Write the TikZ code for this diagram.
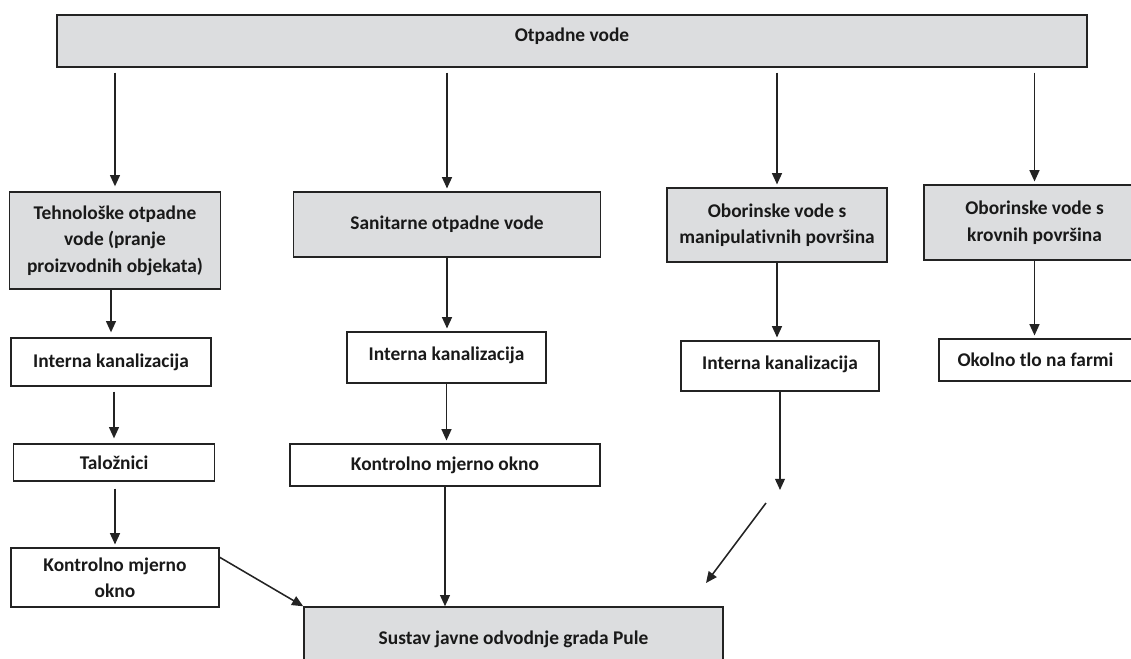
\documentclass[tikz,border=0pt]{standalone}
\usepackage{fontspec}
\setmainfont{Carlito}[Ligatures=NoCommon]
\usetikzlibrary{arrows.meta}
\definecolor{boxgrey}{RGB}{220,221,223}
\definecolor{linegrey}{RGB}{35,35,35}
\tikzset{
	greybox/.style={draw=linegrey, fill=boxgrey, line width=1pt, inner sep=0pt, align=center,
		font=\bfseries\fontsize{13.8}{18.8}\selectfont, text=black!90},
	whitebox/.style={greybox, fill=white},
	flow/.style={-{Triangle[length=8pt,width=7pt]}, line width=1.1pt, draw=linegrey, shorten >=2pt}
}

\begin{document}
\begin{tikzpicture}[x=0.025cm, y=-0.025cm]
			%%%%% START %%%%%
			\clip (0,0) rectangle (1131,658);
			
			\node[greybox, minimum width=25.75cm, minimum height=1.3cm, text depth=0.3cm] (otpadne) at (572,41) {Otpadne vode};
			
			\node[greybox, minimum width=5.275cm, minimum height=2.425cm] (tehno) at (115,240.5) {Tehnološke otpadne\\vode (pranje\\proizvodnih objekata)};
			\node[greybox, minimum width=7.675cm, minimum height=1.625cm] (sanit) at (447,224.5) {Sanitarne otpadne vode};
			\node[greybox, minimum width=5.5cm, minimum height=1.85cm] (manip) at (777,225) {Oborinske vode s\\manipulativnih površina};
			\node[greybox, minimum width=5.525cm, minimum height=1.875cm] (krov) at (1034.5,222.5) {Oborinske vode s\\krovnih površina};
			
			\node[whitebox, minimum width=5cm, minimum height=1.2cm] (intA) at (111,362) {Interna kanalizacija};
			\node[whitebox, minimum width=5.025cm, minimum height=0.925cm] (talo) at (114,462.5) {Taložnici};
			\node[whitebox, minimum width=5.2cm, minimum height=1.475cm] (kontA) at (115,577.5) {Kontrolno mjerno\\okno};
			
			\node[whitebox, minimum width=4.975cm, minimum height=1.275cm, text depth=0.2cm] (intB) at (446.5,357.5) {Interna kanalizacija};
			\node[whitebox, minimum width=7.75cm, minimum height=1.05cm] (kontB) at (445,465) {Kontrolno mjerno okno};
			
			\node[whitebox, minimum width=4.95cm, minimum height=1.25cm, text depth=0.15cm] (intC) at (780,366) {Interna kanalizacija};
			\node[whitebox, minimum width=4.825cm, minimum height=1.05cm] (okolno) at (1035.5,360) {Okolno tlo na farmi};
			
			\node[greybox, minimum width=10.475cm, minimum height=1.6cm] (sustav) at (513.5,639) {Sustav javne odvodnje grada Pule};
			
			% from the top box
			\draw[flow, shorten <=3.5pt, shorten >=3.5pt] (otpadne.south -| tehno.north) -- (tehno.north);
			\draw[flow, shorten <=3.5pt] (otpadne.south -| sanit.north) -- (sanit.north);
			\draw[flow, shorten <=3.5pt] (otpadne.south -| manip.north) -- (manip.north);
			\draw[flow, shorten <=3.5pt] (otpadne.south -| krov.north) -- (krov.north);
			
			% left column
			\draw[flow, shorten >=3.5pt] (tehno.south -| intA.north) -- (intA.north);
			\draw[flow, shorten <=3.5pt, shorten >=3.5pt] (intA.south -| talo.north) -- (talo.north);
			\draw[flow, shorten <=5pt] (talo.south -| kontA.north) -- (kontA.north);
			\draw[flow, shorten >=0pt] ([yshift=-0.25cm]kontA.north east) -- (sustav.north west);
			
			% middle column
			\draw[flow] (sanit.south) -- (sanit.south |- intB.north);
			\draw[flow] (intB.south) -- (intB.south |- kontB.north);
			\draw[flow, shorten >=0pt] (kontB.south) -- (kontB.south |- sustav.north);
			
			% right columns
			\draw[flow] (manip.south) -- (manip.south |- intC.north);
			\coordinate (gapend) at (780,490);
			\draw[flow, shorten >=0pt] (intC.south) -- (gapend);
			\coordinate (diagA) at (766,503);
			\coordinate (diagB) at (706,583);
			\draw[flow, shorten >=0pt] (diagA) -- (diagB);
			\draw[flow] (krov.south) -- (krov.south |- okolno.north);
			
			%%%%% END %%%%%
\end{tikzpicture}
\end{document}
